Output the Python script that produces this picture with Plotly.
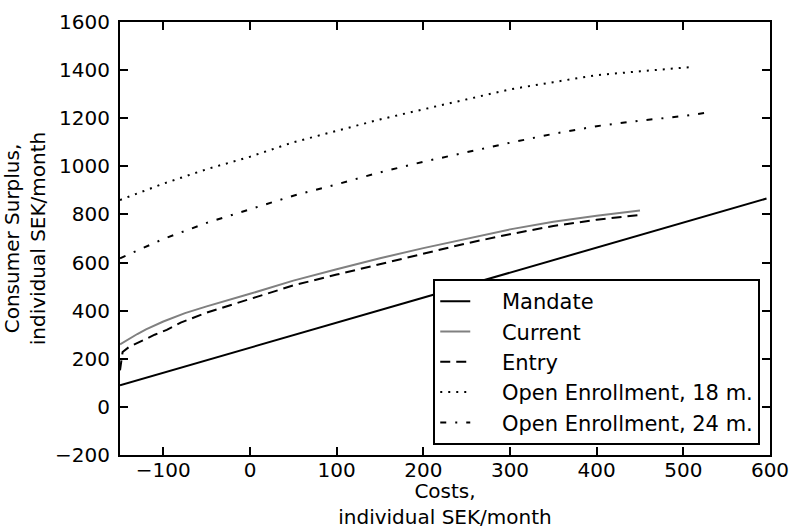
import plotly.graph_objects as go

# Data
mandate_x = [-150, 0, 150, 300, 450, 596]
mandate_y = [90, 246, 402, 558, 714, 866]

current_x = [-150, -140, -130, -120, -100, -75, -50, 0, 50, 100, 150, 200, 250, 300, 350, 400, 450]
current_y = [260, 282, 303, 322, 355, 390, 418, 470, 525, 572, 618, 660, 700, 738, 770, 795, 816]

entry_x = [-150, -147, -140, -123, -110, -96, -80, -50, 0, 50, 100, 150, 200, 250, 300, 350, 400, 450]
entry_y = [152, 228, 248, 279, 300, 320, 350, 392, 450, 505, 550, 593, 637, 680, 718, 752, 778, 798]

oe18_x = [-150, -100, -50, 0, 50, 100, 150, 200, 250, 300, 350, 400, 450, 510]
oe18_y = [860, 928, 988, 1040, 1100, 1148, 1195, 1237, 1280, 1320, 1350, 1379, 1395, 1413]

oe24_x = [-150, -100, -50, 0, 50, 100, 150, 200, 250, 300, 350, 400, 450, 500, 527]
oe24_y = [618, 698, 765, 821, 878, 925, 975, 1019, 1060, 1098, 1135, 1167, 1190, 1209, 1223]

series_names = ["Mandate", "Current", "Entry", "Open Enrollment, 18 m.", "Open Enrollment, 24 m."]

x_ticks = [-100, 0, 100, 200, 300, 400, 500, 600]
y_ticks = [-200, 0, 200, 400, 600, 800, 1000, 1200, 1400, 1600]

FONT = "DejaVu Sans"
PAD = "\u00a0" * 4  # gap between legend sample line and label text

fig = go.Figure()
fig.add_trace(go.Scatter(x=mandate_x, y=mandate_y, mode="lines", name=PAD + series_names[0],
                         line=dict(color="black", width=2)))
fig.add_trace(go.Scatter(x=current_x, y=current_y, mode="lines", name=PAD + series_names[1],
                         line=dict(color="#808080", width=2)))
fig.add_trace(go.Scatter(x=entry_x, y=entry_y, mode="lines", name=PAD + series_names[2],
                         line=dict(color="black", width=2, dash="10px,6px")))
fig.add_trace(go.Scatter(x=oe18_x, y=oe18_y, mode="lines", name=PAD + series_names[3],
                         line=dict(color="black", width=2, dash="2px,6px")))
fig.add_trace(go.Scatter(x=oe24_x, y=oe24_y, mode="lines", name=PAD + series_names[4],
                         line=dict(color="black", width=2, dash="6px,9px,2px,9px")))

axis_common = dict(showline=True, linecolor="black", linewidth=2, mirror="ticks",
                   ticks="inside", ticklen=8, tickwidth=1.5, tickcolor="black",
                   showgrid=False, zeroline=False, automargin=False,
                   tickfont=dict(family=FONT, size=20, color="black"))

fig.update_xaxes(range=[-150, 600], tickvals=x_ticks, ticklabelstandoff=-4,
                 title=dict(text="Costs,<br>individual SEK/month",
                            font=dict(family=FONT, size=20, color="black"), standoff=24),
                 **axis_common)
fig.update_yaxes(range=[-200, 1600], tickvals=y_ticks, ticklabelstandoff=4,
                 title=dict(text="Consumer Surplus,<br>individual SEK/month",
                            font=dict(family=FONT, size=20, color="black"), standoff=6),
                 **axis_common)

fig.update_layout(
    width=790, height=529,
    margin=dict(l=120, r=20, t=22, b=74),
    plot_bgcolor="white", paper_bgcolor="white",
    font=dict(family=FONT, color="black"),
    showlegend=True,
    legend=dict(x=0.985, y=0.023, xanchor="right", yanchor="bottom",
                bgcolor="white", bordercolor="black", borderwidth=2,
                font=dict(family=FONT, size=21, color="black"),
                itemwidth=30, tracegroupgap=0),
)

fig.write_html("out.html")
